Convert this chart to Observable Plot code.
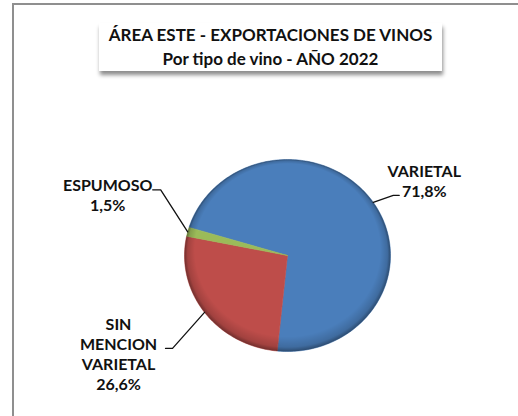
<!DOCTYPE html>
<html>
<head>
<meta charset="utf-8">
<script src="https://cdn.jsdelivr.net/npm/d3@7"></script>
<script src="https://cdn.jsdelivr.net/npm/@observablehq/plot@0.6"></script>
<style>
  html, body { margin: 0; padding: 0; background: #fff; }
  #chart { position: relative; width: 518px; height: 416px; overflow: hidden; background: #fff; }
  #frame { position: absolute; left: 12px; top: 3px; width: 520px; height: 420px;
           border-left: 2px solid #8f8f8f; border-top: 2px solid #8f8f8f; box-sizing: border-box; }
  #title { position: absolute; left: 99px; top: 23px; width: 343px; height: 48px; background: #fff;
           box-shadow: 1px 4px 4px rgba(0,0,0,0.45); font-family: Lato, sans-serif; font-weight: bold;
           font-size: 17px; line-height: 24px; text-align: center; color: #111; padding-top: 0px; box-sizing: border-box; }
  #plot { position: absolute; left: 0; top: 0; }
</style>
</head>
<body>
<div id="chart">
  <div id="plot"></div>
  <div id="frame"></div>
  <div id="title">ÁREA ESTE - EXPORTACIONES DE VINOS<br>Por tipo de vino - AÑO 2022</div>
</div>
<script>
// ---- data ----
const categories = ["VARIETAL", "SIN MENCION VARIETAL", "ESPUMOSO"];
const shares = [71.8, 26.6, 1.5];
const colors = ["#4a7ebb", "#be4d4a", "#9bbb59"];

// ---- layout constants (pixels) ----
const W = 518, H = 416;
const CX = 287, CY = 255, RX = 103, RY = 96;
const START_DEG = 287;
// label offsets relative to the slice's edge anchor: [label dx, label dy, elbow dx, elbow dy, end dx, end dy]
const labelOffsets = {
  "VARIETAL": [51, -22, 20, -7, 26, -7],
  "SIN MENCION VARIETAL": [-86, 41, -32, 36, -39, 36],
  "ESPUMOSO": [-80, -37, -27, -42, -35, -42]
};

const rows = categories.map((c, i) => ({cat: c, value: shares[i]}));
const start = START_DEG * Math.PI / 180;
const arcs = d3.pie().sort(null).value(d => d.value).startAngle(start).endAngle(start + 2 * Math.PI)(rows);

// unit coordinates (radius 1 = RX/RY pixels)
const pt = a => ({x: Math.sin(a), y: Math.cos(a)});
const slicePts = [];
for (const a of arcs) {
  const cat = a.data.cat;
  slicePts.push({cat, x: 0, y: 0});
  const n = Math.max(4, Math.ceil((a.endAngle - a.startAngle) / (Math.PI / 180)));
  for (let i = 0; i <= n; i++) {
    const p = pt(a.startAngle + (a.endAngle - a.startAngle) * i / n);
    slicePts.push({cat, ...p});
  }
  slicePts.push({cat, x: 0, y: 0});
}
const ellipsePts = d3.range(0, 361, 2).map(d => pt(d * Math.PI / 180));

const off = (p, dx, dy) => ({x: p.x + dx / RX, y: p.y - dy / RY});
const leaderPts = [], labels = [];
for (const a of arcs) {
  const cat = a.data.cat;
  const anchor = pt((a.startAngle + a.endAngle) / 2);
  const o = labelOffsets[cat];
  leaderPts.push({cat, ...anchor}, {cat, ...off(anchor, o[2], o[3])}, {cat, ...off(anchor, o[4], o[5])});
  const pct = a.data.value.toFixed(1).replace(".", ",") + "%";
  labels.push({cat, ...off(anchor, o[0], o[1]), text: cat.replace(/ /g, "\n") + "\n" + pct});
}

const plot = Plot.plot({
  width: W, height: H, margin: 0,
  x: {axis: null, domain: [-CX / RX, (W - CX) / RX]},
  y: {axis: null, domain: [-(H - CY) / RY, CY / RY]},
  color: {domain: categories, range: colors},
  style: {background: "transparent", overflow: "visible"},
  marks: [
    Plot.line(slicePts, {x: "x", y: "y", z: "cat", fill: "cat", stroke: "cat", strokeWidth: 0.6, curve: "linear"}),
    Plot.line(ellipsePts, {x: "x", y: "y", fill: "url(#pieShade)", stroke: "none", curve: "linear"}),
    Plot.line(leaderPts, {x: "x", y: "y", z: "cat", stroke: "#111", strokeWidth: 1.3, curve: "linear"}),
    Plot.text(labels, {x: "x", y: "y", text: "text", fontFamily: "Lato, sans-serif", fontWeight: "bold",
      fontSize: 16, lineHeight: 1.25, lineAnchor: "middle", textAnchor: "middle", fill: "#111"})
  ]
});

const defs = d3.select(plot).insert("defs", ":first-child");
const rg = defs.append("radialGradient").attr("id", "pieShade")
  .attr("cx", 0.5).attr("cy", 0.5).attr("r", 0.5).attr("fx", 0.5).attr("fy", 0.22);
[[0, "#000", 0], [0.9, "#000", 0], [0.97, "#000", 0.15], [1, "#000", 0.4]].forEach(([o, c, a]) =>
  rg.append("stop").attr("offset", o).attr("stop-color", c).attr("stop-opacity", a));

document.getElementById("plot").appendChild(plot);
</script>
</body>
</html>
